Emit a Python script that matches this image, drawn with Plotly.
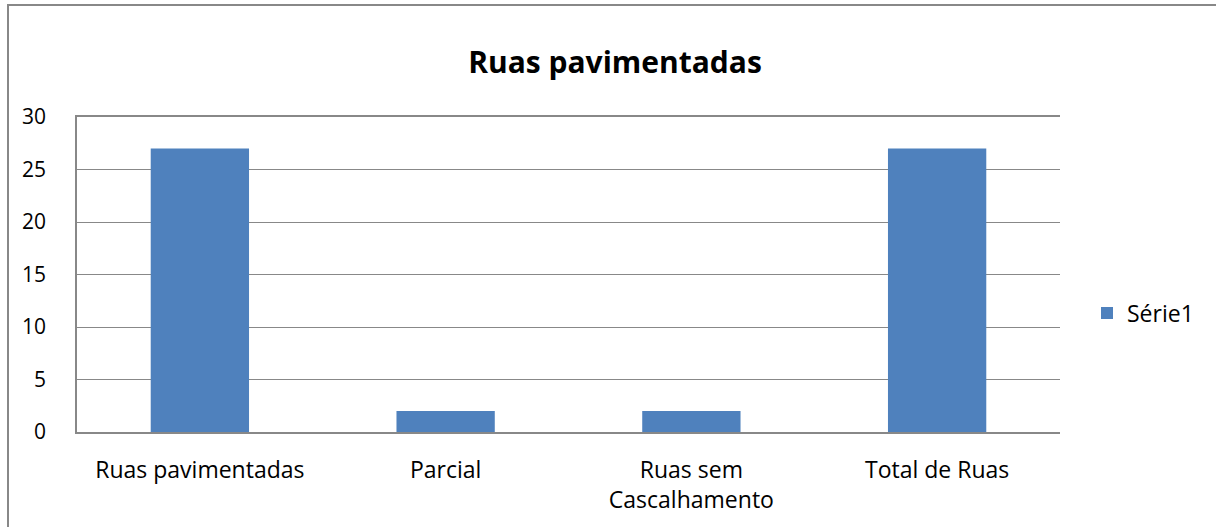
import plotly.graph_objects as go

categories = ["Ruas pavimentadas", "Parcial", "Ruas sem<br>Cascalhamento", "Total de Ruas"]
values = [27, 2, 2, 27]
series_name = "Série1"
y_ticks = [0, 5, 10, 15, 20, 25, 30]

W, H = 1216, 527
L, R, T, B = 77, 1060, 117, 432
pw, ph = R - L, B - T
FONT = "Open Sans"

fig = go.Figure(go.Bar(x=categories, y=values, name=series_name,
                       marker=dict(color="#4F81BD", line=dict(width=0))))

fig.update_layout(
    width=W, height=H,
    margin=dict(l=L, r=W - R, t=T, b=H - B, pad=0),
    paper_bgcolor="white", plot_bgcolor="white",
    font=dict(family=FONT, size=21, color="black"),
    bargap=0.6,
    title=dict(text="<b>Ruas pavimentadas</b>", x=615 / W, xanchor="center",
               y=1 - 62 / H, yanchor="middle", yref="container",
               font=dict(size=30, family=FONT)),
    showlegend=True,
    legend=dict(x=(1087 - L) / pw, y=(B - 313) / ph, xanchor="left", yanchor="middle",
                font=dict(size=23), itemwidth=30, bgcolor="rgba(0,0,0,0)"),
    xaxis=dict(showline=True, mirror=True, linecolor="#888", linewidth=1.5, ticks="",
               ticklabelstandoff=17, showgrid=False, tickfont=dict(size=23)),
    yaxis=dict(range=[0, 30], tickvals=y_ticks, showgrid=True, gridcolor="#888",
               gridwidth=1.2, showline=True, linecolor="#888", linewidth=1.5,
               ticks="", ticklabelstandoff=25, zeroline=False, tickfont=dict(size=21)),
    shapes=[dict(type="rect", xref="paper", yref="paper",
                 x0=(8 - L) / pw, x1=(1300 - L) / pw,
                 y0=(B - 600) / ph, y1=(B - 5) / ph,
                 line=dict(color="#888", width=2), fillcolor="rgba(0,0,0,0)", layer="below")],
)

fig.write_html("out.html", config={"displayModeBar": False},
               post_script="document.body.style.margin='0';document.body.style.padding='0';")
